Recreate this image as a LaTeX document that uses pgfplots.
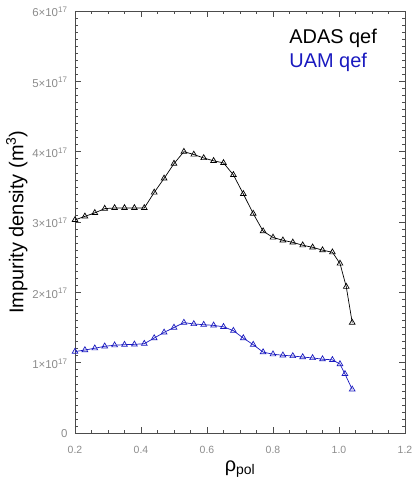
\documentclass[border=0pt]{standalone}
\usepackage{fontspec}
\setmainfont{Liberation Sans}
\usepackage{pgfplots}
\pgfplotsset{compat=1.18}
\definecolor{uam}{rgb}{0.1,0.1,0.75}
\definecolor{ticklab}{gray}{0.55}
\begin{document}
\begin{tikzpicture}
\path[use as bounding box] (-75bp,-47bp) rectangle (340bp,433bp);
\begin{axis}[name=ax, at={(0,0)}, anchor=south west,
  scale only axis, width=330bp, height=422bp,
  xmin=0.2, xmax=1.2, ymin=0, ymax=6,
  xtick={0.2,0.4,0.6,0.8,1.0,1.2},
  xticklabels={0.2,0.4,0.6,0.8,1.0,1.2},
  minor x tick num=3,
  ytick={0,1,2,3,4,5,6},
  yticklabels={0,1×10\textsuperscript{17},2×10\textsuperscript{17},3×10\textsuperscript{17},4×10\textsuperscript{17},5×10\textsuperscript{17},6×10\textsuperscript{17}},
  minor y tick num=9,
  tick align=inside,
  major tick length=6bp, minor tick length=3bp,
  axis line style={black!70, line width=0.6bp},
  every tick/.style={black!70, line width=0.5bp},
  tick label style={font=\fontsize{10.5}{12}\selectfont, text=ticklab},
  xticklabel style={yshift=-10bp},
  yticklabel style={font=\fontsize{11.5}{13}\selectfont, xshift=-4bp, yshift=-1bp},
  ylabel={Impurity density (m\textsuperscript{3})},
  ylabel style={font=\fontsize{20}{24}\selectfont, at={(axis description cs:-0.176,0.5)}, anchor=center, rotate=0},
  xlabel={ρ\textsubscript{pol}},
  xlabel style={font=\fontsize{20}{24}\selectfont, at={(axis description cs:0.5,-0.085)}, anchor=center},
]
\addplot[black, line width=0.7bp, mark=triangle, mark size=3.3bp, mark options={solid}] coordinates {
(0.20,3.03) (0.23,3.08) (0.26,3.13) (0.29,3.19) (0.32,3.20) (0.35,3.20) (0.38,3.20) (0.41,3.20)
(0.44,3.42) (0.47,3.62) (0.50,3.83) (0.53,4.00) (0.56,3.96) (0.59,3.91) (0.62,3.87) (0.65,3.84)
(0.68,3.67) (0.71,3.40) (0.74,3.12) (0.77,2.87) (0.80,2.78) (0.83,2.74) (0.86,2.71) (0.89,2.67)
(0.92,2.64) (0.95,2.60) (0.98,2.57) (1.003,2.41) (1.022,2.08) (1.04,1.57)
};
\addplot[uam, line width=0.7bp, mark=triangle, mark size=3.3bp, mark options={solid}] coordinates {
(0.20,1.157) (0.23,1.18) (0.26,1.205) (0.29,1.233) (0.32,1.248) (0.35,1.256) (0.38,1.26) (0.41,1.27)
(0.44,1.35) (0.47,1.43) (0.50,1.50) (0.53,1.57) (0.56,1.55) (0.59,1.54) (0.62,1.53) (0.65,1.51)
(0.68,1.455) (0.71,1.35) (0.74,1.256) (0.77,1.15) (0.80,1.12) (0.83,1.105) (0.86,1.095) (0.89,1.08)
(0.92,1.067) (0.95,1.05) (0.98,1.04) (1.003,0.98) (1.018,0.84) (1.04,0.62)
};
\node[anchor=base west, font=\fontsize{20}{24}\selectfont, text=black] at (axis description cs:0.639,0.924) {ADAS qef};
\node[anchor=base west, font=\fontsize{20}{24}\selectfont, text=uam] at (axis description cs:0.639,0.867) {UAM qef};
\end{axis}
\end{tikzpicture}
\end{document}
